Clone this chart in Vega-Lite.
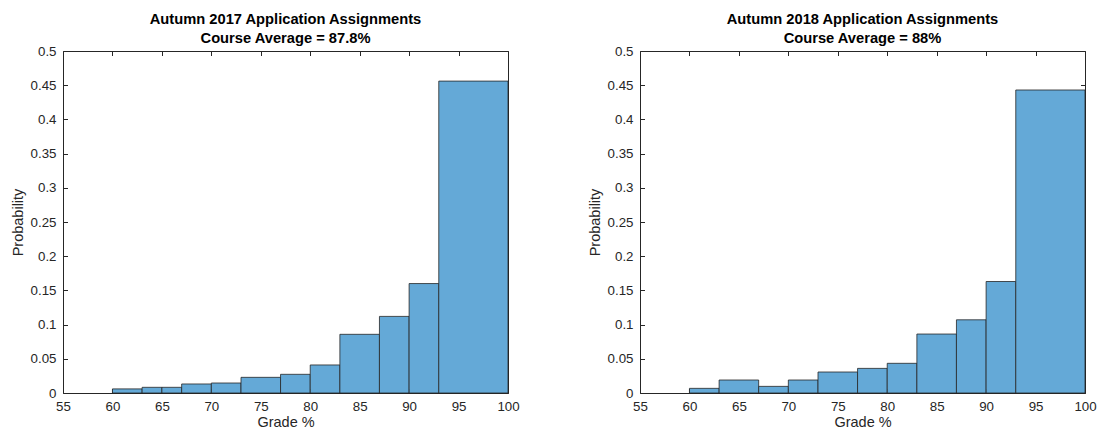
{
  "$schema": "https://vega.github.io/schema/vega-lite/v6.json",
  "padding": {"left": 10, "top": 12, "right": 5, "bottom": 2},
  "background": "white",
  "datasets": {
    "a2017": [
      {"bin_start": 60, "bin_end": 63, "probability": 0.006},
      {"bin_start": 63, "bin_end": 65, "probability": 0.0083},
      {"bin_start": 65, "bin_end": 67, "probability": 0.0083},
      {"bin_start": 67, "bin_end": 70, "probability": 0.0132},
      {"bin_start": 70, "bin_end": 73, "probability": 0.0146},
      {"bin_start": 73, "bin_end": 77, "probability": 0.0229},
      {"bin_start": 77, "bin_end": 80, "probability": 0.0273},
      {"bin_start": 80, "bin_end": 83, "probability": 0.041},
      {"bin_start": 83, "bin_end": 87, "probability": 0.0858},
      {"bin_start": 87, "bin_end": 90, "probability": 0.112},
      {"bin_start": 90, "bin_end": 93, "probability": 0.16},
      {"bin_start": 93, "bin_end": 100, "probability": 0.456}
    ],
    "a2018": [
      {"bin_start": 60, "bin_end": 63, "probability": 0.0068},
      {"bin_start": 63, "bin_end": 67, "probability": 0.019},
      {"bin_start": 67, "bin_end": 70, "probability": 0.0097},
      {"bin_start": 70, "bin_end": 73, "probability": 0.019},
      {"bin_start": 73, "bin_end": 77, "probability": 0.0307},
      {"bin_start": 77, "bin_end": 80, "probability": 0.036},
      {"bin_start": 80, "bin_end": 83, "probability": 0.0434},
      {"bin_start": 83, "bin_end": 87, "probability": 0.0862},
      {"bin_start": 87, "bin_end": 90, "probability": 0.107},
      {"bin_start": 90, "bin_end": 93, "probability": 0.163},
      {"bin_start": 93, "bin_end": 100, "probability": 0.443}
    ]
  },
  "spacing": 67,
  "hconcat": [
    {
      "width": 445,
      "height": 342,
      "title": {"text": ["Autumn 2017 Application Assignments", "Course Average = 87.8%"]},
      "data": {"name": "a2017"},
      "layer": [
        {
          "mark": {"type": "rect", "fill": "#64A9D7", "stroke": "#262626", "strokeWidth": 0.8},
          "encoding": {
            "x": {"field": "bin_start", "type": "quantitative", "scale": {"domain": [55, 100], "nice": false, "zero": false}, "axis": {"orient": "bottom", "title": "Grade %", "values": [55, 60, 65, 70, 75, 80, 85, 90, 95, 100], "format": "d"}},
            "x2": {"field": "bin_end"},
            "y": {"field": "probability", "type": "quantitative", "scale": {"domain": [0, 0.5], "nice": false}, "axis": {"orient": "left", "title": "Probability", "values": [0, 0.05, 0.1, 0.15, 0.2, 0.25, 0.3, 0.35, 0.4, 0.45, 0.5], "format": "~g"}},
            "y2": {"datum": 0}
          }
        },
        {
          "mark": {"type": "rect", "opacity": 0},
          "encoding": {
            "x": {"field": "bin_start", "type": "quantitative", "scale": {"domain": [55, 100], "nice": false, "zero": false}, "axis": {"orient": "top", "title": null, "labels": false, "values": [55, 60, 65, 70, 75, 80, 85, 90, 95, 100]}},
            "x2": {"field": "bin_end"},
            "y": {"field": "probability", "type": "quantitative", "scale": {"domain": [0, 0.5], "nice": false}, "axis": {"orient": "right", "title": null, "labels": false, "values": [0, 0.05, 0.1, 0.15, 0.2, 0.25, 0.3, 0.35, 0.4, 0.45, 0.5]}},
            "y2": {"datum": 0}
          }
        }
      ],
      "resolve": {"axis": {"x": "independent", "y": "independent"}}
    },
    {
      "width": 445,
      "height": 342,
      "title": {"text": ["Autumn 2018 Application Assignments", "Course Average = 88%"]},
      "data": {"name": "a2018"},
      "layer": [
        {
          "mark": {"type": "rect", "fill": "#64A9D7", "stroke": "#262626", "strokeWidth": 0.8},
          "encoding": {
            "x": {"field": "bin_start", "type": "quantitative", "scale": {"domain": [55, 100], "nice": false, "zero": false}, "axis": {"orient": "bottom", "title": "Grade %", "values": [55, 60, 65, 70, 75, 80, 85, 90, 95, 100], "format": "d"}},
            "x2": {"field": "bin_end"},
            "y": {"field": "probability", "type": "quantitative", "scale": {"domain": [0, 0.5], "nice": false}, "axis": {"orient": "left", "title": "Probability", "values": [0, 0.05, 0.1, 0.15, 0.2, 0.25, 0.3, 0.35, 0.4, 0.45, 0.5], "format": "~g"}},
            "y2": {"datum": 0}
          }
        },
        {
          "mark": {"type": "rect", "opacity": 0},
          "encoding": {
            "x": {"field": "bin_start", "type": "quantitative", "scale": {"domain": [55, 100], "nice": false, "zero": false}, "axis": {"orient": "top", "title": null, "labels": false, "values": [55, 60, 65, 70, 75, 80, 85, 90, 95, 100]}},
            "x2": {"field": "bin_end"},
            "y": {"field": "probability", "type": "quantitative", "scale": {"domain": [0, 0.5], "nice": false}, "axis": {"orient": "right", "title": null, "labels": false, "values": [0, 0.05, 0.1, 0.15, 0.2, 0.25, 0.3, 0.35, 0.4, 0.45, 0.5]}},
            "y2": {"datum": 0}
          }
        }
      ],
      "resolve": {"axis": {"x": "independent", "y": "independent"}}
    }
  ],
  "config": {
    "font": "Liberation Sans",
    "view": {"stroke": null},
    "title": {"fontSize": 14.7, "fontWeight": "bold", "color": "#000000", "lineHeight": 19, "offset": -2, "anchor": "middle"},
    "axis": {
      "grid": false,
      "domainColor": "#262626",
      "domainWidth": 1,
      "tickColor": "#262626",
      "tickWidth": 1,
      "tickSize": -4.5,
      "labelFontSize": 13.3,
      "labelColor": "#262626",
      "labelFont": "Liberation Sans",
      "titleFont": "Liberation Sans",
      "titleFontSize": 14.5,
      "titleFontWeight": "normal",
      "titleColor": "#262626"
    },
    "axisX": {"labelPadding": 11, "titlePadding": 3, "labelFlush": false},
    "axisY": {"labelPadding": 11.5, "titlePadding": 5, "labelFlush": false}
  }
}
